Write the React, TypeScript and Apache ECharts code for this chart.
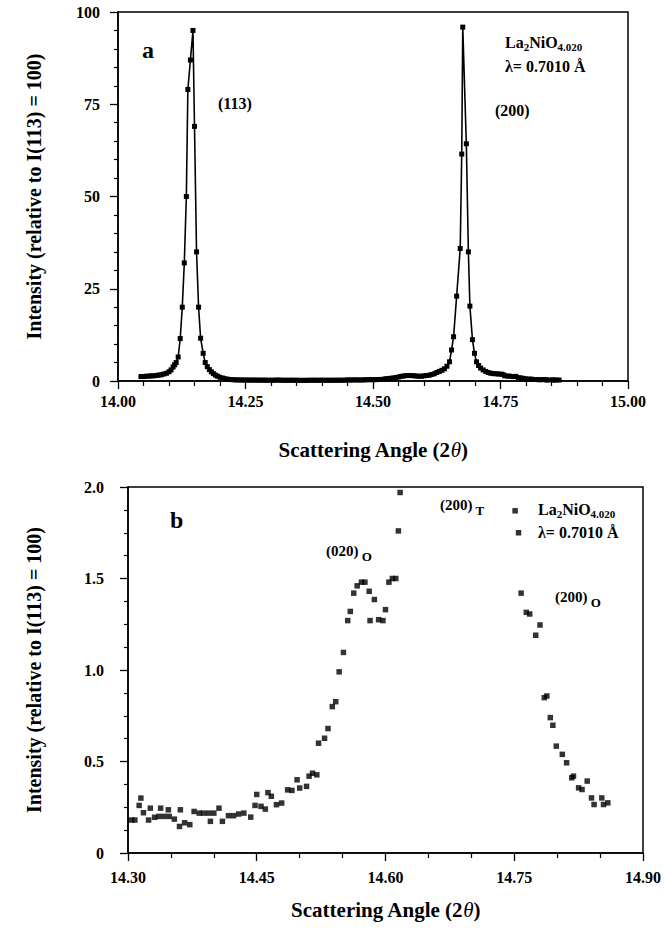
import React, { useEffect, useRef } from "react";
import * as echarts from "echarts";

const FONT = "'Liberation Serif', 'Times New Roman', serif";

// Panel a: full scan (2θ, intensity relative to I(113)=100)
const scanA: [number, number][] = [
  [14.045, 1.2], [14.05, 1.2], [14.055, 1.3], [14.06, 1.3], [14.065, 1.4], [14.07, 1.4],
  [14.075, 1.5], [14.08, 1.6], [14.085, 1.7], [14.09, 1.9], [14.095, 2.1], [14.1, 2.5],
  [14.104, 3.0], [14.108, 3.8], [14.111, 4.4], [14.114, 5.0], [14.118, 6.5], [14.122, 11.5],
  [14.126, 20], [14.13, 32], [14.134, 50], [14.137, 79], [14.142, 87], [14.147, 95],
  [14.15, 69], [14.154, 35], [14.158, 20], [14.162, 11.6], [14.167, 7.5], [14.171, 5.0],
  [14.175, 3.9], [14.179, 3.1], [14.183, 2.5], [14.187, 2.0], [14.191, 1.6], [14.195, 1.3],
  [14.2, 1.0], [14.205, 0.8], [14.21, 0.6], [14.215, 0.5], [14.22, 0.4], [14.225, 0.35],
  [14.23, 0.3], [14.235, 0.3], [14.24, 0.28], [14.245, 0.27], [14.25, 0.26], [14.255, 0.25],
  [14.26, 0.25], [14.265, 0.24], [14.27, 0.24], [14.275, 0.23], [14.28, 0.23], [14.285, 0.22],
  [14.29, 0.22], [14.295, 0.21], [14.3, 0.2], [14.305, 0.2], [14.31, 0.24], [14.315, 0.25],
  [14.32, 0.21], [14.325, 0.2], [14.33, 0.2], [14.335, 0.21], [14.34, 0.21], [14.345, 0.2],
  [14.35, 0.2], [14.355, 0.18], [14.36, 0.17], [14.365, 0.17], [14.37, 0.18], [14.375, 0.2],
  [14.38, 0.21], [14.385, 0.21], [14.39, 0.2], [14.395, 0.2], [14.4, 0.21], [14.405, 0.21],
  [14.41, 0.2], [14.415, 0.2], [14.42, 0.2], [14.425, 0.21], [14.43, 0.21], [14.435, 0.21],
  [14.44, 0.21], [14.445, 0.23], [14.45, 0.28], [14.455, 0.27], [14.46, 0.28], [14.465, 0.31],
  [14.47, 0.28], [14.475, 0.27], [14.48, 0.29], [14.485, 0.33], [14.49, 0.34], [14.495, 0.37],
  [14.5, 0.36], [14.505, 0.37], [14.51, 0.41], [14.515, 0.43], [14.52, 0.45], [14.525, 0.61],
  [14.53, 0.65], [14.535, 0.74], [14.54, 0.82], [14.545, 0.95], [14.55, 1.08], [14.555, 1.25],
  [14.56, 1.36], [14.565, 1.45], [14.57, 1.48], [14.575, 1.47], [14.58, 1.42], [14.585, 1.35],
  [14.59, 1.28], [14.595, 1.3], [14.6, 1.4], [14.605, 1.49], [14.61, 1.55], [14.615, 1.76],
  [14.62, 1.97], [14.625, 2.3], [14.63, 2.6], [14.635, 2.9], [14.64, 3.3], [14.645, 4.0],
  [14.65, 5.2], [14.654, 8.4], [14.658, 12], [14.664, 23], [14.671, 35.9], [14.674, 61.5],
  [14.676, 95.9], [14.683, 64.3], [14.687, 35], [14.69, 20.3], [14.695, 11.2], [14.699, 7.5],
  [14.703, 5.2], [14.707, 4.2], [14.711, 3.5], [14.716, 3.0], [14.721, 2.6], [14.726, 2.3],
  [14.731, 2.1], [14.736, 2.0], [14.741, 1.95], [14.746, 1.9], [14.751, 1.87], [14.755, 1.75],
  [14.758, 1.42], [14.764, 1.32], [14.768, 1.31], [14.775, 1.19], [14.78, 1.25], [14.785, 0.85],
  [14.788, 0.86], [14.792, 0.74], [14.795, 0.7], [14.799, 0.58], [14.806, 0.54], [14.811, 0.49],
  [14.817, 0.41], [14.821, 0.41], [14.825, 0.36], [14.829, 0.35], [14.835, 0.39], [14.84, 0.3],
  [14.843, 0.27], [14.852, 0.3], [14.854, 0.27], [14.859, 0.27], [14.865, 0.27],
];

// Panel b: enlarged view of the same scan, 14.30–14.90
const scanB: [number, number][] = [
  [14.304, 0.18], [14.308, 0.18], [14.313, 0.26], [14.315, 0.3], [14.318, 0.22], [14.324, 0.18],
  [14.326, 0.245], [14.331, 0.195], [14.336, 0.2], [14.338, 0.245], [14.342, 0.2], [14.347, 0.236],
  [14.348, 0.2], [14.354, 0.185], [14.36, 0.145], [14.361, 0.236], [14.366, 0.165], [14.372, 0.155],
  [14.377, 0.227], [14.383, 0.218], [14.388, 0.218], [14.394, 0.218], [14.396, 0.173], [14.4, 0.218],
  [14.406, 0.245], [14.41, 0.173], [14.417, 0.204], [14.423, 0.204], [14.429, 0.213], [14.435, 0.218],
  [14.443, 0.196], [14.448, 0.26], [14.45, 0.32], [14.455, 0.255], [14.46, 0.24], [14.463, 0.33],
  [14.467, 0.31], [14.473, 0.264], [14.479, 0.273], [14.486, 0.345], [14.491, 0.342], [14.497, 0.4],
  [14.5, 0.355], [14.508, 0.364], [14.511, 0.42], [14.515, 0.436], [14.52, 0.427], [14.522, 0.6],
  [14.529, 0.627], [14.533, 0.68], [14.538, 0.8], [14.542, 0.827], [14.546, 0.99], [14.551, 1.096],
  [14.556, 1.27], [14.559, 1.32], [14.563, 1.42], [14.567, 1.46], [14.572, 1.48], [14.576, 1.48],
  [14.581, 1.43], [14.582, 1.27], [14.587, 1.385], [14.592, 1.275], [14.597, 1.27], [14.6, 1.33],
  [14.604, 1.48], [14.608, 1.5], [14.612, 1.5], [14.615, 1.76], [14.617, 1.97],
  [14.751, 1.87], [14.755, 1.75], [14.758, 1.42], [14.764, 1.315], [14.768, 1.306], [14.775, 1.19],
  [14.78, 1.246], [14.785, 0.849], [14.788, 0.858], [14.792, 0.74], [14.795, 0.698], [14.799, 0.584],
  [14.806, 0.539], [14.811, 0.493], [14.817, 0.411], [14.819, 0.42], [14.825, 0.356], [14.829, 0.347],
  [14.835, 0.393], [14.84, 0.301], [14.843, 0.265], [14.852, 0.301], [14.854, 0.265], [14.859, 0.274],
];

const axisTitleX = "{n|Scattering Angle (2}{i|θ}{n|)}";
const axisTitleY = "Intensity (relative to I(113) = 100)";
const compound = ["La", "2", "NiO", "4.020"];
const wavelength = "λ= 0.7010 Å";

const black = "#000";

function sub(main: string, s: string) {
  return `{m|${main}}{s|${s}}`;
}

export default function App() {
  const ref = useRef<HTMLDivElement>(null);
  useEffect(() => {
    if (!ref.current) return;
    const chart = echarts.init(ref.current, undefined, { renderer: "svg" });
    const labelStyle = { fontFamily: FONT, fontWeight: "bold" as const, fontSize: 16, color: black };
    const nameRich = {
      n: { fontFamily: FONT, fontWeight: "bold", fontSize: 21, color: black },
      i: { fontFamily: FONT, fontStyle: "italic", fontSize: 21, color: black },
    };
    const richSub = (mSize: number, sSize: number, pad: number) => ({
      m: { fontFamily: FONT, fontWeight: "bold", fontSize: mSize, fill: black, verticalAlign: "top", lineHeight: mSize + 2 },
      s: { fontFamily: FONT, fontWeight: "bold", fontSize: sSize, fill: black, verticalAlign: "top", lineHeight: sSize + 1, padding: [pad, 0, 0, 0] },
    });
    const txt = (x: number, y: number, text: string, size: number, align = "left") => ({
      type: "text", x, y,
      style: { text, fontFamily: FONT, fontWeight: "bold", fontSize: size, fill: black, align, verticalAlign: "middle" },
    });
    const richTxt = (x: number, y: number, text: string, rich: any) => ({
      type: "text", x, y,
      style: { text, rich, fill: black, align: "left", verticalAlign: "middle" },
    });
    const compoundText = sub(compound[0], compound[1]) + sub(compound[2], compound[3]);

    const axisLine = { show: true, lineStyle: { color: black, width: 1.5 } };
    chart.setOption({
      animation: false,
      backgroundColor: "#fff",
      grid: [
        { left: 118, top: 12, width: 510, height: 369, show: true, borderColor: black, borderWidth: 1.5 },
        { left: 128, top: 487, width: 524, height: 366, show: true, borderColor: black, borderWidth: 1.5 },
      ],
      xAxis: [
        {
          gridIndex: 0, type: "value", min: 14, max: 15, interval: 0.25,
          axisLine, axisTick: { show: true, length: 8, lineStyle: { color: black, width: 1.3 } },
          minorTick: { show: true, splitNumber: 5, length: 5, lineStyle: { color: black, width: 1.2 } },
          splitLine: { show: false },
          axisLabel: { ...labelStyle, margin: 12, formatter: (v: number) => v.toFixed(2) },
          name: axisTitleX, nameLocation: "middle", nameGap: 58,
          nameTextStyle: { rich: nameRich },
        },
        {
          gridIndex: 1, type: "value", min: 14.3, max: 14.9, interval: 0.15,
          axisLine, axisTick: { show: true, length: 8, lineStyle: { color: black, width: 1.3 } },
          minorTick: { show: true, splitNumber: 3, length: 5, lineStyle: { color: black, width: 1.2 } },
          splitLine: { show: false },
          axisLabel: { ...labelStyle, margin: 16, formatter: (v: number) => v.toFixed(2) },
          name: axisTitleX, nameLocation: "middle", nameGap: 46,
          nameTextStyle: { rich: nameRich },
        },
      ],
      yAxis: [
        {
          gridIndex: 0, type: "value", min: 0, max: 100, interval: 25,
          axisLine, axisTick: { show: true, length: 8, lineStyle: { color: black, width: 1.3 } },
          minorTick: { show: true, splitNumber: 5, length: 4, lineStyle: { color: black, width: 1.2 } },
          splitLine: { show: false },
          axisLabel: { ...labelStyle, margin: 18 },
          name: axisTitleY, nameLocation: "middle", nameRotate: 90, nameGap: 74,
          nameTextStyle: { fontFamily: FONT, fontWeight: "bold", fontSize: 20, color: black },
        },
        {
          gridIndex: 1, type: "value", min: 0, max: 2, interval: 0.5,
          axisLine, axisTick: { show: true, length: 8, lineStyle: { color: black, width: 1.3 } },
          minorTick: { show: true, splitNumber: 4, length: 4, lineStyle: { color: black, width: 1.2 } },
          splitLine: { show: false },
          axisLabel: { ...labelStyle, margin: 24, formatter: (v: number) => (v === 0 ? "0" : v.toFixed(1)) },
          name: axisTitleY, nameLocation: "middle", nameRotate: 90, nameGap: 84,
          nameTextStyle: { fontFamily: FONT, fontWeight: "bold", fontSize: 20, color: black },
        },
      ],
      series: [
        {
          type: "line", xAxisIndex: 0, yAxisIndex: 0, data: scanA,
          symbol: "rect", symbolSize: 5, showSymbol: true, showAllSymbol: true,
          lineStyle: { color: black, width: 1.6 }, itemStyle: { color: black },
        },
        {
          type: "scatter", xAxisIndex: 1, yAxisIndex: 1, data: scanB,
          symbol: "rect", symbolSize: 5.5, itemStyle: { color: black },
        },
      ],
      graphic: [
        txt(142, 50, "a", 24),
        txt(218, 103, "(113)", 16),
        txt(495, 110, "(200)", 16),
        richTxt(505, 43, compoundText, richSub(16, 11, 7)),
        txt(505, 66, wavelength, 16),
        txt(170, 520, "b", 24),
        richTxt(326, 552, sub("(020)", " O"), richSub(15, 13, 6)),
        richTxt(440, 506, sub("(200)", " T"), richSub(15, 13, 6)),
        richTxt(538, 510, compoundText, richSub(16, 11, 7)),
        txt(538, 532, wavelength, 16),
        richTxt(555, 598, sub("(200)", " O"), richSub(15, 13, 6)),
      ],
    });
    return () => chart.dispose();
  }, []);
  return (
    <div
      ref={ref}
      style={{ position: "absolute", left: 0, top: 0, width: 664, height: 931, background: "#fff" }}
    />
  );
}
